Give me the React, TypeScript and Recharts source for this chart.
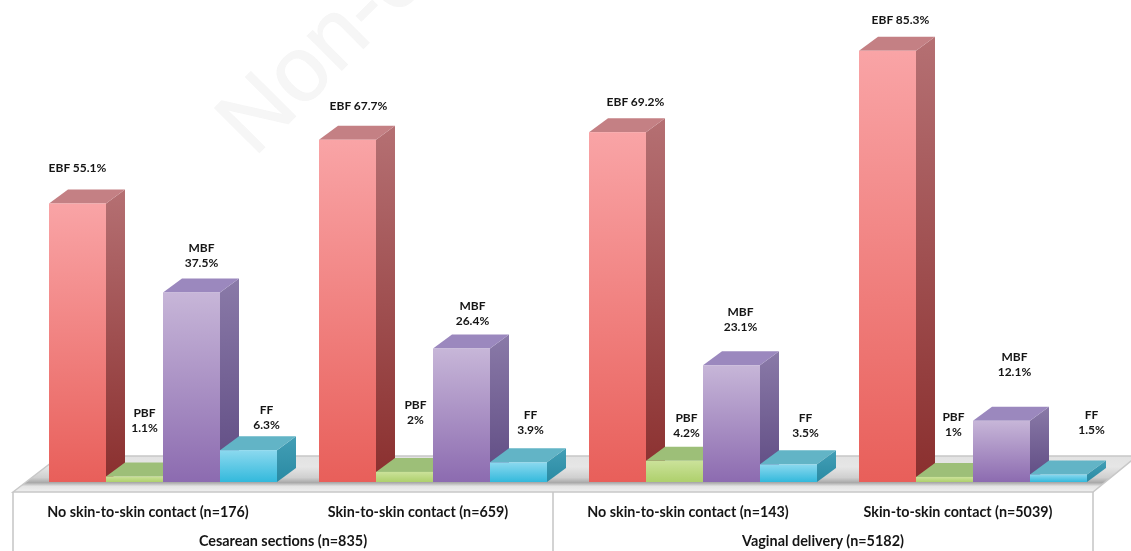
import { BarChart, Bar, XAxis, YAxis, LabelList } from "recharts";

const categories = [
  "No skin-to-skin contact (n=176)",
  "Skin-to-skin contact (n=659)",
  "No skin-to-skin contact (n=143)",
  "Skin-to-skin contact (n=5039)",
];
const groups = [
  "Cesarean sections (n=835)",
  "Cesarean sections (n=835)",
  "Vaginal delivery (n=5182)",
  "Vaginal delivery (n=5182)",
];
const ebf = [55.1, 67.7, 69.2, 85.3];
const pbf = [1.1, 2, 4.2, 1];
const mbf = [37.5, 26.4, 23.1, 12.1];
const ff = [6.3, 3.9, 3.5, 1.5];

const data = categories.map((name, i) => ({
  name,
  group: groups[i],
  EBF: ebf[i],
  PBF: pbf[i],
  MBF: mbf[i],
  FF: ff[i],
}));

// label nudges relative to the bar's front top centre: [dx, y of last line above bar top]
const ebfLabels = [[0, 31], [11, 30], [18, 26], [13, 27]];
const pbfLabels = [[10, 44], [11, 48], [12, 24], [9, 41]];
const mbfLabels = [[10, 25], [11, 24], [9, 34], [13, 45]];
const ffLabels = [[18, 21], [12, 28], [17, 27], [33, 40]];

const DX = 19;
const DY = 14;

const faces: Record<string, { front: string[]; side: string[]; top: string }> = {
  red: { front: ["#f9a4a6", "#e85f5a"], side: ["#b57073", "#8a2f2e"], top: "#c48084" },
  green: { front: ["#cbe29a", "#aed06c"], side: ["#8fb060", "#8fb060"], top: "#9dbf78" },
  purple: { front: ["#c7b6d8", "#8c6bb0"], side: ["#8a7aa8", "#5e4a82"], top: "#9b88be" },
  blue: { front: ["#8cd9ef", "#33b9dc"], side: ["#439fb6", "#2a8aa3"], top: "#62b4c6" },
};

function box3d(kind: string) {
  return (props: any) => {
    const { x, y, width, height } = props;
    const r = x + width;
    const b = y + height;
    return (
      <g>
        <polygon
          points={`${r},${y} ${r + DX},${y - DY} ${r + DX},${b - DY} ${r},${b}`}
          fill={`url(#${kind}-side)`}
        />
        <polygon
          points={`${x},${y} ${x + DX},${y - DY} ${r + DX},${y - DY} ${r},${y}`}
          fill={faces[kind].top}
        />
        <rect x={x} y={y} width={width} height={height} fill={`url(#${kind}-front)`} />
      </g>
    );
  };
}

const textStyle = {
  fontFamily: "Lato, 'Open Sans', sans-serif",
  fontWeight: 700,
  fill: "#151515",
};

function barLabel(prefix: string, nudges: number[][], twoLines: boolean) {
  return (props: any) => {
    const { x, y, width, value, index } = props;
    const [dx, up] = nudges[index];
    const cx = x + width / 2 + dx;
    const last = y - up;
    if (!twoLines) {
      return (
        <text x={cx} y={last} textAnchor="middle" fontSize={12} style={textStyle}>
          {`${prefix} ${value}%`}
        </text>
      );
    }
    return (
      <text textAnchor="middle" fontSize={12} style={textStyle}>
        <tspan x={cx} y={last - 15}>{prefix}</tspan>
        <tspan x={cx} y={last}>{`${value}%`}</tspan>
      </text>
    );
  };
}

const CategoryTick = (props: any) => (
  <text x={props.x - 15} y={props.y + 27} textAnchor="middle" fontSize={14.3} style={textStyle}>
    {props.payload.value}
  </text>
);

const GroupTick = (props: any) => (
  <text x={props.x - 15} y={props.y + 21} textAnchor="middle" fontSize={14.4} style={textStyle}>
    {props.payload.value}
  </text>
);

export default function App() {
  return (
    <div style={{ position: "absolute", left: 0, top: 0, filter: "blur(0.6px)" }}>
      <BarChart
        width={1131}
        height={551}
        data={data}
        margin={{ top: 27, right: 23, bottom: 0, left: 28 }}
        barCategoryGap={21}
        barGap={0}
      >
        <defs>
          {Object.keys(faces).flatMap((k) => [
            <linearGradient key={k + "f"} id={`${k}-front`} x1="0" y1="0" x2="0" y2="1">
              <stop offset="0%" stopColor={faces[k].front[0]} />
              <stop offset="100%" stopColor={faces[k].front[1]} />
            </linearGradient>,
            <linearGradient key={k + "s"} id={`${k}-side`} x1="0" y1="0" x2="0" y2="1">
              <stop offset="0%" stopColor={faces[k].side[0]} />
              <stop offset="100%" stopColor={faces[k].side[1]} />
            </linearGradient>,
          ])}
          <linearGradient id="floor" x1="0" y1="0" x2="0" y2="1">
            <stop offset="0%" stopColor="#e2e2e2" />
            <stop offset="30%" stopColor="#e6e6e6" />
            <stop offset="60%" stopColor="#cfcfcf" />
            <stop offset="74%" stopColor="#a9a9a9" />
            <stop offset="84%" stopColor="#e4e4e4" />
            <stop offset="100%" stopColor="#efefef" />
          </linearGradient>
        </defs>

        <text
          transform="rotate(-45 254 158)"
          x={254}
          y={158}
          fontSize={92}
          fontFamily="'Liberation Sans', sans-serif"
          fill="#f6f6f6"
          stroke="#f6f6f6"
          strokeWidth={1}
        >
          Non-commercial use only
        </text>

        <polygon points="13,492 60,456 1137,456 1093,492" fill="url(#floor)" stroke="#c8c8c8" strokeWidth={1.5} />
        <line x1={13} y1={492} x2={13} y2={551} stroke="#c4c4c4" strokeWidth={1.5} />
        <line x1={553} y1={492} x2={553} y2={551} stroke="#c4c4c4" strokeWidth={1.5} />
        <line x1={1093} y1={492} x2={1093} y2={551} stroke="#c4c4c4" strokeWidth={1.5} />

        <XAxis dataKey="name" height={35} axisLine={false} tickLine={false} tick={CategoryTick} interval={0} />
        <XAxis
          dataKey="group"
          xAxisId="group"
          allowDuplicatedCategory={false}
          height={34}
          axisLine={false}
          tickLine={false}
          tick={GroupTick}
          interval={0}
        />
        <YAxis hide domain={[0, 90]} />

        <Bar dataKey="EBF" isAnimationActive={false} shape={box3d("red")}>
          <LabelList dataKey="EBF" content={barLabel("EBF", ebfLabels, false)} />
        </Bar>
        <Bar dataKey="PBF" isAnimationActive={false} shape={box3d("green")}>
          <LabelList dataKey="PBF" content={barLabel("PBF", pbfLabels, true)} />
        </Bar>
        <Bar dataKey="MBF" isAnimationActive={false} shape={box3d("purple")}>
          <LabelList dataKey="MBF" content={barLabel("MBF", mbfLabels, true)} />
        </Bar>
        <Bar dataKey="FF" isAnimationActive={false} shape={box3d("blue")}>
          <LabelList dataKey="FF" content={barLabel("FF", ffLabels, true)} />
        </Bar>
      </BarChart>
    </div>
  );
}
